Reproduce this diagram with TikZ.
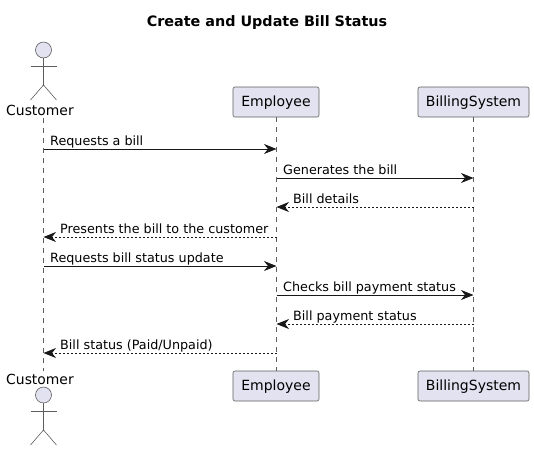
\documentclass[tikz,border=0pt]{standalone}
\usepackage{fontspec}
\setmainfont{DejaVu Sans}
\usetikzlibrary{arrows.meta, positioning}

\definecolor{partfill}{HTML}{E2E2F0}
\definecolor{partline}{HTML}{181818}

\tikzset{
    partbox/.style={draw=partline!70, line width=0.6pt, fill=partfill, rounded corners=2pt,
        minimum height=30pt, inner sep=0pt, text height=10.5pt, text depth=1.5pt, font=\fontsize{14}{16}\selectfont},
    actorname/.style={inner sep=0pt, font=\fontsize{13.9}{16}\selectfont},
    lifeline/.style={draw=partline!70, line width=0.55pt, dash pattern=on 5pt off 5pt},
    actorline/.style={draw=partline!70, line width=0.6pt},
    msgsolid/.style={draw=partline, line width=0.9pt, -{Stealth[length=12.5pt,width=10pt,inset=4pt]}},
    msgdash/.style={msgsolid, dash pattern=on 2pt off 2pt},
    msgtext/.style={inner sep=0pt, text depth=0pt, font=\fontsize{12.75}{15}\selectfont},
}

\begin{document}
\begin{tikzpicture}[x=1pt, y=-1pt]
    \useasboundingbox (0,0) rectangle (534,451);

    \node[font=\bfseries\fontsize{14.35}{16}\selectfont, inner sep=0pt] (title) at (267,23) {Create and Update Bill Status};

    % participants
    \node[actorname] (custtop) at (40,110) {Customer};
    \node[actorname] (custbot) at (40,379) {Customer};
    \node[partbox, minimum width=86pt] (emptop) at (276,102) {Employee};
    \node[partbox, minimum width=86pt] (empbot) at (276,386) {Employee};
    \node[partbox, minimum width=111pt] (billtop) at (473.5,102) {BillingSystem};
    \node[partbox, minimum width=111pt] (billbot) at (473.5,386) {BillingSystem};

    % actors
    \foreach \name/\y in {a/50, b/395} {
        \node[circle, draw=partline!70, line width=0.6pt, fill=partfill, minimum size=16pt, inner sep=0pt] (head\name) at (43.5,\y) {};
        \coordinate (hip\name) at (43.5,\y+35);
        \coordinate (larm\name) at (30.5,\y+16);
        \coordinate (rarm\name) at (56.5,\y+16);
        \coordinate (lfoot\name) at (30.5,\y+50);
        \coordinate (rfoot\name) at (56.5,\y+50);
        \draw[actorline] (head\name) -- (hip\name);
        \draw[actorline] (larm\name) -- (rarm\name);
        \draw[actorline] (lfoot\name) -- (hip\name) -- (rfoot\name);
    }

    % lifelines
    \coordinate (custstart) at (43.5,118);
    \coordinate (custend) at (43.5,371);
    \draw[lifeline] (custstart) -- (custend);
    \draw[lifeline] (emptop) -- (empbot);
    \draw[lifeline] (billtop) -- (billbot);

    % message rows
    \foreach \i/\y in {1/149, 2/178, 3/207, 4/237, 5/266, 6/295, 7/324, 8/353} {
        \coordinate (cust\i) at (43.5,\y);
        \coordinate (emp\i) at (276.5,\y);
        \coordinate (bill\i) at (473.5,\y);
    }

    \draw[msgsolid] (cust1) -- (emp1);
    \draw[msgsolid] (emp2) -- (bill2);
    \draw[msgdash] (bill3) -- (emp3);
    \draw[msgdash] (emp4) -- (cust4);
    \draw[msgsolid] (cust5) -- (emp5);
    \draw[msgsolid] (emp6) -- (bill6);
    \draw[msgdash] (bill7) -- (emp7);
    \draw[msgdash] (emp8) -- (cust8);

    \node[msgtext, above right=3.8pt and 6.5pt of cust1] (lab1) {Requests a bill};
    \node[msgtext, above right=3.8pt and 6.5pt of emp2] (lab2) {Generates the bill};
    \node[msgtext, above right=3.8pt and 16.5pt of emp3] (lab3) {Bill details};
    \node[msgtext, above right=3.8pt and 16.5pt of cust4] (lab4) {Presents the bill to the customer};
    \node[msgtext, above right=3.8pt and 6.5pt of cust5] (lab5) {Requests bill status update};
    \node[msgtext, above right=3.8pt and 6.5pt of emp6] (lab6) {Checks bill payment status};
    \node[msgtext, above right=3.8pt and 16.5pt of emp7] (lab7) {Bill payment status};
    \node[msgtext, above right=3.8pt and 16.5pt of cust8] (lab8) {Bill status (Paid/Unpaid)};
\end{tikzpicture}
\end{document}
